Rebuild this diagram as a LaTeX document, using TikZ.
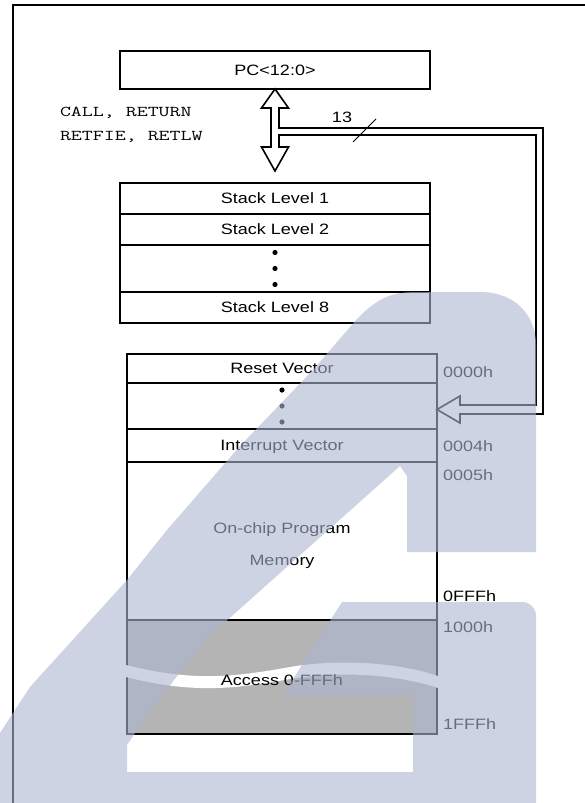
\documentclass[tikz,border=0pt]{standalone}
\usepackage{fontspec}
\setmainfont[FakeStretch=1.2]{Liberation Sans}
\newfontfamily\codefont[FakeStretch=1.42]{Latin Modern Mono}
\usetikzlibrary{positioning,calc}
\definecolor{accgray}{HTML}{B4B4B4}
\definecolor{wmark}{RGB}{172,182,207}

\begin{document}
\begin{tikzpicture}[
    x=1pt, y=-1pt,
    every node/.style={font=\fontsize{15}{18}\selectfont, inner sep=0pt, outer sep=0pt},
    cell/.style={draw, line width=2pt, minimum width=310pt, text height=10.7pt, text depth=0pt},
    addr/.style={anchor=west},
    bus/.style={line width=1.6pt, line join=miter},
]
\useasboundingbox (0,0) rectangle (585,803);
\fill[white] (0,0) rectangle (585,803);

% outer frame
\draw[line width=2pt] (13,804) -- (13,5) -- (586,5);

% program counter
\node[cell, minimum height=38pt] (pc) at (275,70) {PC<12:0>};
\node[anchor=west, align=left, font=\codefont\fontsize{15}{24}\selectfont]
    (ops) at (60,125) {CALL, RETURN\\RETFIE, RETLW};

% 8-level stack
\node[cell, minimum height=31pt] (lvl1) at (275,198.5) {Stack Level 1};
\node[cell, minimum height=31pt, below=0pt of lvl1] (lvl2) {Stack Level 2};
\node[cell, minimum height=47pt, below=0pt of lvl2] (lvldots) {};
\node[cell, minimum height=31pt, below=0pt of lvldots] (lvl8) {Stack Level 8};
\foreach \d in {-16,0,16} {
    \fill ($(lvldots.center)+(0,\d)$) circle (2.6);
}

% program memory map
\node[cell, minimum height=29pt] (reset) at (282,368.5) {Reset Vector};
\node[cell, minimum height=46pt, below=0pt of reset] (memdots) {};
\node[cell, minimum height=33pt, below=0pt of memdots] (intvec) {Interrupt Vector};
\node[cell, minimum height=158pt, below=0pt of intvec] (onchip) {};
\node[cell, minimum height=114pt, below=0pt of onchip, fill=accgray] (access) {};
\foreach \d in {-16,0,16} {
    \fill ($(memdots.center)+(0,\d)$) circle (2.6);
}
\node[align=center, font=\fontsize{15}{32}\selectfont]
    (onchiplbl) at ($(onchip.center)+(0,5)$) {On-chip Program\\Memory};

% break in the access region
\fill[white]
    (126,665) .. controls (190,681) and (230,678) .. (290,667)
    .. controls (330,660) and (390,660) .. (438,676)
    -- (438,688) .. controls (390,672) and (330,672) .. (290,679)
    .. controls (230,690) and (190,693) .. (126,677) -- cycle;
\node (acclbl) at ($(access.center)+(0,3)$) {Access 0-FFFh};

% addresses
\node[addr] (a0000) at (443,372) {0000h};
\node[addr] (a0004) at (443,446) {0004h};
\node[addr] (a0005) at (443,475) {0005h};
\node[addr] (a0fff) at (443,596) {0FFFh};
\node[addr] (a1000) at (443,627) {1000h};
\node[addr] (a1fff) at (443,724) {1FFFh};

% stack <-> PC arrow and 13-bit bus to the memory
\draw[bus] (pc.south) -- (288.5,108) -- (279,108) -- (279,128) -- (543,128)
    -- (543,414) -- (460,414) -- (460,423) -- ($(memdots.east)+(0,3.5)$)
    -- (460,396) -- (460,405) -- (536,405) -- (536,135) -- (279,135)
    -- (279,147) -- (288.5,147) -- (275,171) -- (261.5,147) -- (271,147)
    -- (271,108) -- (261.5,108) -- cycle;
\draw[line width=1pt] (353,142) -- (376,119);
\node (buswidth) at (342,117) {13};

% watermark
\fill[wmark, fill opacity=0.6]
    (0,733) -- (30,687) -- (127,580) -- (167,530) -- (240,446) -- (313,370) -- (350,327)
    .. controls (378,294) and (395,292) .. (420,292) -- (480,292)
    .. controls (515,292) and (536,315) .. (536,345) -- (536,552) -- (407,552)
    -- (407,476) -- (400,466) -- (205,640) -- (147,715) -- (127,745) -- (127,772)
    -- (0,772) -- cycle
    (342,602) -- (522,602) .. controls (530,602) and (536,608) .. (536,616)
    -- (536,803) -- (0,803) -- (0,772) -- (413,772) -- (413,695) -- (283,695) -- cycle;

\end{tikzpicture}
\end{document}
